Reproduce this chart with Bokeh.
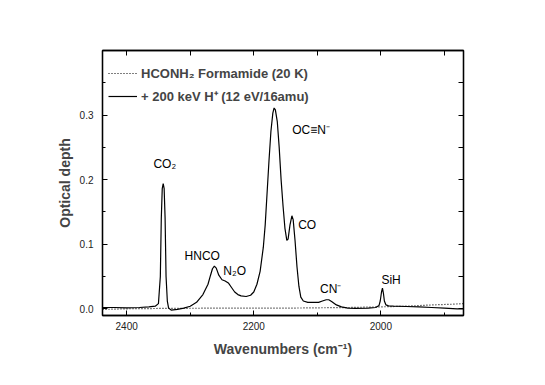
from bokeh.plotting import figure
from bokeh.models import (Range1d, FixedTicker, PrintfTickFormatter, LinearAxis,
                          Legend, LegendItem, ColumnDataSource)
from bokeh.core.properties import value
from bokeh.embed import file_html
from bokeh.resources import INLINE

# ---- data ----
# irradiated spectrum: + 200 keV H+ (12 eV/16amu)
irr_wn = [2438, 2420, 2400, 2380, 2365, 2355, 2350, 2347, 2345.5, 2344, 2342.5, 2341,
          2339.5, 2338, 2336, 2334, 2330, 2320, 2310, 2300, 2290, 2280, 2272, 2268,
          2265, 2262, 2259, 2255, 2250, 2245, 2240, 2235, 2230, 2225, 2220, 2212,
          2205, 2200, 2195, 2190, 2185, 2182, 2179, 2176, 2173, 2170, 2168, 2166,
          2163, 2160, 2157, 2154, 2151, 2148, 2146, 2143, 2140, 2138, 2135, 2132,
          2129, 2126, 2122, 2115, 2105, 2098, 2092, 2086, 2082, 2077, 2070, 2062,
          2052, 2040, 2020, 2008, 2003, 2001, 1999, 1997.5, 1996, 1994.5, 1992,
          1988, 1980, 1960, 1940, 1920, 1900, 1880, 1870]
irr_od = [0.002, 0.002, 0.0015, 0.002, 0.003, 0.004, 0.008, 0.05, 0.14, 0.186, 0.194, 0.186,
          0.14, 0.05, 0.012, 0.001, -0.002, -0.001, 0.001, 0.004, 0.010, 0.022, 0.038, 0.052,
          0.062, 0.066, 0.063, 0.052, 0.045, 0.043, 0.040, 0.033, 0.026, 0.022, 0.020, 0.019,
          0.021, 0.026, 0.038, 0.058, 0.095, 0.130, 0.180, 0.230, 0.275, 0.303, 0.311, 0.308,
          0.290, 0.250, 0.200, 0.160, 0.125, 0.106, 0.108, 0.130, 0.144, 0.138, 0.105, 0.065,
          0.035, 0.018, 0.012, 0.010, 0.010, 0.010, 0.012, 0.014, 0.014, 0.011, 0.006, 0.003,
          0.001, 0.0005, 0.001, 0.002, 0.005, 0.012, 0.026, 0.032, 0.024, 0.012, 0.006,
          0.0045, 0.004, 0.0035, 0.003, 0.002, 0.001, 0.0, 0.0]

# pristine formamide (20 K)
pri_wn = [2438, 2400, 2350, 2300, 2250, 2200, 2150, 2100, 2050, 2000, 1960, 1920, 1890, 1870]
pri_od = [-0.001, 0.0, 0.0005, 0.0008, 0.001, 0.001, 0.001, 0.0015, 0.002, 0.003, 0.004,
          0.006, 0.007, 0.008]

# band labels
band_names = ["CO\u2082", "HNCO", "N\u2082O", "OC\u2261N\u207b", "CO", "CN\u207b", "SiH"]
band_x = [2340, 2281, 2230, 2110, 2116, 2079, 1984]
band_y = [0.224, 0.082, 0.058, 0.277, 0.130, 0.031, 0.045]

x_major = [2400, 2200, 2000]
x_minor = [2300, 2100, 1900]
y_major = [0.0, 0.1, 0.2, 0.3]
y_minor = [0.05, 0.15, 0.25, 0.35]

FONT = "Liberation Sans"

p = figure(output_backend="svg", toolbar_location=None,
           frame_width=361, frame_height=265,
           min_border_left=102, min_border_right=65, min_border_top=50, min_border_bottom=58,
           x_range=Range1d(2438, 1870), y_range=Range1d(-0.0104, 0.40))
p.xgrid.visible = False
p.ygrid.visible = False
p.outline_line_color = "black"
p.outline_line_width = 1.3
p.background_fill_color = "white"
p.border_fill_color = "white"

pri = p.line(pri_wn, pri_od, line_color="black", line_width=1.2, line_dash="1 2")
irr = p.line(irr_wn, irr_od, line_color="black", line_width=1.2)

src = ColumnDataSource(dict(x=band_x, y=band_y, t=band_names))
p.text(x="x", y="y", text="t", source=src, text_align="center", text_baseline="middle",
       text_font=value(FONT), text_font_size="12px", text_color="black")


def style_axis(ax, ticks, minor, show_labels):
    ax.ticker = FixedTicker(ticks=ticks, minor_ticks=minor)
    ax.major_tick_in = 5
    ax.major_tick_out = 0
    ax.minor_tick_in = 3
    ax.minor_tick_out = 0
    ax.axis_line_width = 1.3
    ax.major_tick_line_width = 1
    ax.minor_tick_line_width = 1
    ax.major_label_text_font = FONT
    ax.major_label_text_font_size = "10px"
    ax.major_label_text_color = "#222222"
    if not show_labels:
        ax.major_label_text_alpha = 0
        ax.major_label_text_font_size = "1px"


xa = p.xaxis[0]
style_axis(xa, x_major, x_minor, True)
xa.major_label_standoff = 6
xa.axis_label = "Wavenumbers (cm\u207b\u00b9)"
xa.axis_label_text_font = FONT
xa.axis_label_text_font_style = "bold"
xa.axis_label_text_font_size = "14px"
xa.axis_label_standoff = 8

ya = p.yaxis[0]
style_axis(ya, y_major, y_minor, True)
ya.formatter = PrintfTickFormatter(format="%.1f")
ya.major_label_standoff = 9
ya.axis_label = "Optical depth"
ya.axis_label_text_font = FONT
ya.axis_label_text_font_style = "bold"
ya.axis_label_text_font_size = "14px"
ya.axis_label_standoff = 4

top = LinearAxis()
style_axis(top, x_major + x_minor, [], False)
p.add_layout(top, "above")
right = LinearAxis()
style_axis(right, y_major + y_minor, [], False)
p.add_layout(right, "right")

legend = Legend(items=[LegendItem(label="HCONH\u2082 Formamide (20 K)", renderers=[pri]),
                       LegendItem(label="+ 200 keV H\u207a (12 eV/16amu)", renderers=[irr])],
                location=(6, 209), margin=0, padding=0, spacing=3,
                glyph_width=29, glyph_height=20, label_height=20, label_standoff=4,
                label_text_font=FONT, label_text_font_style="bold",
                label_text_font_size="13px", border_line_alpha=0, background_fill_alpha=0)
p.add_layout(legend)

open("out.html", "w").write(file_html(p, INLINE))
